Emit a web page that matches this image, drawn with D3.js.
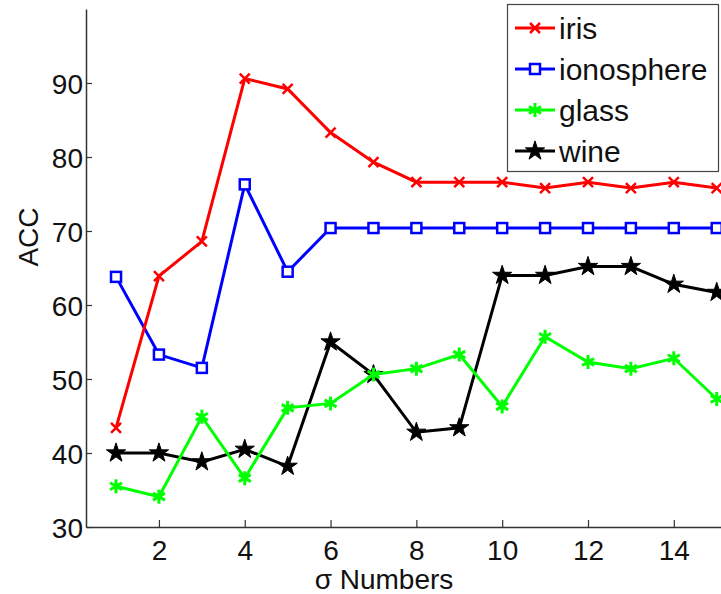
<!DOCTYPE html>
<html>
<head>
<meta charset="utf-8">
<script src="https://cdn.jsdelivr.net/npm/d3@7"></script>
<style>
  body { margin: 0; background: #fff; }
  text { font-family: "Liberation Sans", Arial, sans-serif; fill: #111; }
</style>
</head>
<body>
<div id="chart"></div>
<script>
// sigma numbers on the x axis
var sigmas = [1, 2, 3, 4, 5, 6, 7, 8, 9, 10, 11, 12, 13, 14, 15];
// accuracy of each dataset
var iris = [43.4, 63.9, 68.6, 90.6, 89.2, 83.3, 79.3, 76.6, 76.6, 76.6, 75.8, 76.6, 75.8, 76.6, 75.8];
var ionosphere = [63.8, 53.3, 51.5, 76.3, 64.5, 70.4, 70.4, 70.4, 70.4, 70.4, 70.4, 70.4, 70.4, 70.4, 70.4];
var glass = [35.5, 34.1, 44.9, 36.6, 46.1, 46.7, 50.6, 51.4, 53.3, 46.3, 55.7, 52.3, 51.4, 52.8, 47.3];
var wine = [40.0, 40.0, 38.8, 40.5, 38.2, 55.0, 50.6, 42.8, 43.4, 64.0, 64.0, 65.2, 65.2, 62.8, 61.7];
var seriesNames = ["iris", "ionosphere", "glass", "wine"];
var xTicks = [2, 4, 6, 8, 10, 12, 14];
var yTicks = [30, 40, 50, 60, 70, 80, 90];

var width = 721, height = 594;
var margin = {top: 9, right: 0, bottom: 67, left: 86};

var svg = d3.select("#chart")
   .append("svg")
   .attr("width", width)
   .attr("height", height);

var x = d3.scaleLinear()
   .domain([0.3, 15.1])
   .range([margin.left, width - margin.right]);

var y = d3.scaleLinear()
   .domain([30, 100])
   .range([height - margin.bottom, margin.top]);

//Axes, ticks point inside like matlab
var xAxis = svg.append("g")
   .attr("transform", "translate(0," + y(30) + ")")
   .call(d3.axisBottom(x).tickValues(xTicks).tickSizeInner(-7).tickSizeOuter(0).tickPadding(15));
var yAxis = svg.append("g")
   .attr("transform", "translate(" + x.range()[0] + ",0)")
   .call(d3.axisLeft(y).tickValues(yTicks).tickSizeInner(-6).tickSizeOuter(0).tickPadding(3));

[xAxis, yAxis].forEach(function(a) {
  a.select(".domain").style("stroke", "#333").style("stroke-width", 1.5);
  a.selectAll(".tick line").style("stroke", "#333").style("stroke-width", 1.2);
  a.selectAll(".tick text")
     .style("font-size", "28px")
     .style("font-family", "Liberation Sans, Arial, sans-serif")
     .style("fill", "#111");
});
yAxis.selectAll(".tick text").attr("dy", "0.36em");
xAxis.selectAll(".tick text").attr("dy", "0.66em");

//Axis labels
svg.append("text")
   .text("σ Numbers")
   .attr("x", 384)
   .attr("y", 589)
   .attr("text-anchor", "middle")
   .style("font-size", "28px");
svg.append("text")
   .text("ACC")
   .attr("transform", "translate(38,237) rotate(-90)")
   .attr("text-anchor", "middle")
   .style("font-size", "28px");

//Marker drawing functions
var markers = {
  iris: function(g) {
    g.append("path")
       .attr("d", "M-5,-5L5,5M-5,5L5,-5")
       .style("stroke", "#ff0000")
       .style("stroke-width", 2.5)
       .style("fill", "none");
  },
  ionosphere: function(g) {
    g.append("rect")
       .attr("x", -5).attr("y", -5)
       .attr("width", 10).attr("height", 10)
       .style("stroke", "#0000ff")
       .style("stroke-width", 2.5)
       .style("fill", "#fff");
  },
  glass: function(g) {
    g.append("path")
       .attr("d", "M0,-7L0,7M-6,-3.5L6,3.5M-6,3.5L6,-3.5")
       .style("stroke", "#00ff00")
       .style("stroke-width", 3)
       .style("fill", "none");
  },
  wine: function(g) {
    g.append("path")
       .attr("d", d3.symbol().type(d3.symbolStar).size(115)())
       .style("fill", "#000")
       .style("stroke", "#000")
       .style("stroke-width", 1);
  }
};
var colors = {iris: "#ff0000", ionosphere: "#0000ff", glass: "#00ff00", wine: "#000"};
var values = {iris: iris, ionosphere: ionosphere, glass: glass, wine: wine};

var line = d3.line()
   .x(function(d) { return x(d[0]); })
   .y(function(d) { return y(d[1]); });

//Draw in reverse so iris sits on top
seriesNames.slice().reverse().forEach(function(name) {
  var pts = sigmas.map(function(s, i) { return [s, values[name][i]]; });
  svg.append("path")
     .datum(pts)
     .attr("d", line)
     .style("fill", "none")
     .style("stroke", colors[name])
     .style("stroke-width", 3);
  pts.forEach(function(p) {
    var g = svg.append("g").attr("transform", "translate(" + x(p[0]) + "," + y(p[1]) + ")");
    markers[name](g);
  });
});

//Legend
var leg = svg.append("g");
leg.append("rect")
   .attr("x", 507.5).attr("y", 4.5)
   .attr("width", 211).attr("height", 167)
   .style("fill", "#fff")
   .style("stroke", "#444")
   .style("stroke-width", 1.2);
seriesNames.forEach(function(name, i) {
  var cy = 28 + i * 41;
  leg.append("line")
     .attr("x1", 515).attr("x2", 555)
     .attr("y1", cy).attr("y2", cy)
     .style("stroke", colors[name])
     .style("stroke-width", 3);
  var g = leg.append("g").attr("transform", "translate(535," + cy + ")");
  markers[name](g);
  leg.append("text")
     .text(name)
     .attr("x", 559)
     .attr("y", cy)
     .attr("dy", "0.36em")
     .style("font-size", "30px");
});
</script>
</body>
</html>
